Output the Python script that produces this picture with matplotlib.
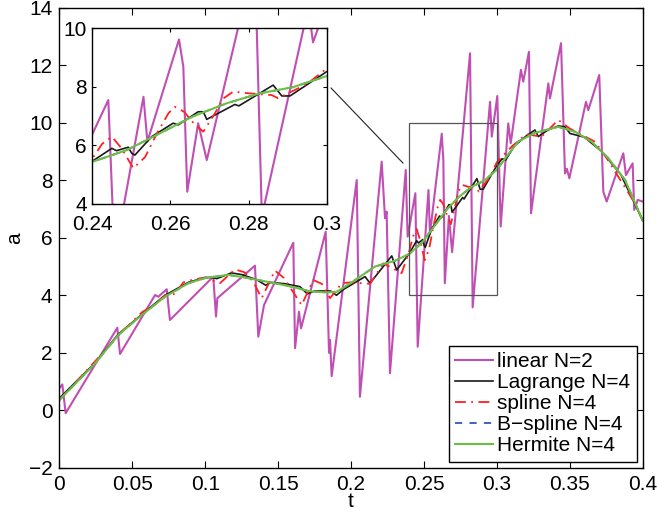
import numpy as np
import matplotlib.pyplot as plt
from matplotlib.patches import Rectangle

plt.rcParams['font.family'] = ['Liberation Sans', 'DejaVu Sans']

# linear N=2 (sawtooth)
t_lin = [0.0, 0.002, 0.0043, 0.0397, 0.0416, 0.0656, 0.0678, 0.0736, 0.0758,
         0.1055, 0.1074, 0.1083, 0.1341, 0.1364, 0.1403, 0.1604, 0.1616, 0.1643,
         0.1657, 0.1826, 0.1849, 0.1856, 0.1867, 0.2039, 0.2061, 0.221, 0.2233,
         0.2244, 0.2267, 0.2375, 0.2388, 0.2441, 0.2457, 0.2531, 0.2541, 0.2622,
         0.2633, 0.2643, 0.2671, 0.2693, 0.2816, 0.2834, 0.2953, 0.2965, 0.3003,
         0.3026, 0.3078, 0.3095, 0.3165, 0.3181, 0.322, 0.3234, 0.3353, 0.3364,
         0.344, 0.3467, 0.348, 0.3497, 0.3611, 0.3627, 0.3702, 0.373, 0.3753,
         0.3867, 0.3885, 0.3931, 0.3942, 0.3966, 0.4]
a_lin = [0.77, 0.90, -0.10, 2.87, 1.96, 4.01, 3.95, 4.21, 3.14,
         4.65, 3.26, 3.90, 5.03, 2.56, 3.66, 5.83, 2.16, 3.43,
         2.85, 6.21, 2.0, 2.45, 1.19, 8.01, 0.47, 8.65, 6.68,
         6.91, 1.29, 8.36, 6.04, 7.55, 2.21, 7.66, 6.13, 9.62,
         8.69, 4.42, 6.76, 5.50, 12.42, 3.58, 10.73, 9.52, 10.93,
         6.39, 9.98, 9.29, 11.84, 11.43, 12.47, 6.85, 11.37, 10.85,
         12.77, 8.24, 8.40, 8.07, 10.73, 10.44, 11.66, 7.60, 7.26,
         8.94, 8.18, 8.59, 6.97, 7.32, 7.26]

# Lagrange N=4
t_lag = [0.0, 0.0244, 0.0404, 0.0564, 0.0724, 0.0884, 0.1, 0.104, 0.108, 0.118,
         0.125, 0.135, 0.1415, 0.145, 0.155, 0.165, 0.17, 0.175, 0.186, 0.19,
         0.1947, 0.2096, 0.213, 0.2279, 0.2313, 0.24, 0.245, 0.2462, 0.2492,
         0.2501, 0.2509, 0.2552, 0.2607, 0.262, 0.2671, 0.2684, 0.2693, 0.2765,
         0.2775, 0.2863, 0.2885, 0.2906, 0.30, 0.3035, 0.306, 0.312, 0.3203,
         0.3261, 0.3284, 0.335, 0.3421, 0.3467, 0.3501, 0.36, 0.3719, 0.385, 0.4]
a_lag = [0.42, 1.65, 2.65, 3.33, 4.0, 4.45, 4.62, 4.62, 4.58, 4.78,
         4.72, 4.55, 4.35, 4.45, 4.40, 4.30, 4.05, 4.15, 4.15, 4.0,
         4.2, 4.65, 4.42, 5.37, 4.88, 5.46, 5.90, 5.82, 5.94,
         5.73, 5.67, 6.30, 6.76, 6.70, 7.15, 7.15, 6.89, 7.40,
         7.35, 8.06, 7.69, 7.69, 8.52, 8.75, 8.70, 9.2, 9.55,
         9.75, 9.52, 9.75, 9.89, 9.86, 9.63, 9.5, 9.0, 8.2, 6.6]

# spline N=4
t_spl = [0.0, 0.0244, 0.0404, 0.0564, 0.0656, 0.0724, 0.0793, 0.085, 0.092, 0.1,
         0.1101, 0.1204, 0.127, 0.133, 0.1387, 0.1478, 0.154, 0.1616, 0.1661,
         0.1741, 0.18, 0.1856, 0.1936, 0.2, 0.2073, 0.213, 0.2221, 0.2347,
         0.24, 0.2425, 0.245, 0.2475, 0.2505, 0.2535, 0.2565, 0.2595, 0.2611,
         0.2635, 0.266, 0.2684, 0.2714, 0.2735, 0.2761, 0.28, 0.2859, 0.2876,
         0.291, 0.295, 0.30, 0.3101, 0.32, 0.3307, 0.3421, 0.35, 0.3673,
         0.3753, 0.3947, 0.4]
a_spl = [0.36, 1.7, 2.6, 3.4, 3.7, 4.0, 4.05, 4.45, 4.55, 4.62,
         4.42, 4.9, 4.8, 4.47, 3.90, 4.86, 4.6, 4.01, 3.66,
         4.53, 4.4, 3.90, 4.42, 4.45, 4.42, 4.4, 5.11, 4.77,
         5.55, 6.05, 6.30, 5.9, 5.22, 5.6, 6.4, 7.1, 7.32,
         7.15, 6.75, 6.47, 7.1, 7.6, 7.84, 7.78, 7.72, 7.61,
         7.84, 8.1, 8.63, 9.17, 9.6, 9.52, 10.1, 9.8, 9.34,
         8.77, 7.2, 6.6]

# Hermite N=4 (B-spline N=4 lies underneath)
t_her = [0.0, 0.012, 0.0244, 0.0404, 0.0564, 0.0724, 0.0884, 0.1, 0.1158, 0.1273,
         0.1456, 0.1593, 0.1707, 0.182, 0.19, 0.196, 0.2027, 0.2164, 0.2301,
         0.24, 0.2488, 0.2565, 0.2659, 0.2744, 0.2829, 0.2914, 0.30, 0.3033,
         0.3147, 0.3261, 0.3421, 0.3536, 0.365, 0.3764, 0.3879, 0.4]
a_her = [0.36, 0.98, 1.63, 2.62, 3.31, 3.95, 4.42, 4.6, 4.71, 4.62,
         4.44, 4.30, 4.15, 4.10, 4.12, 4.3, 4.53, 5.0, 5.2,
         5.44, 5.84, 6.36, 7.0, 7.44, 7.78, 7.99, 8.37, 8.6,
         9.35, 9.65, 9.86, 9.69, 9.34, 8.77, 8.01, 6.6]
t_bsp = t_her
a_bsp = a_her

labels = ['linear N=2', 'Lagrange N=4', 'spline N=4', 'B\u2212spline N=4', 'Hermite N=4']
xticks = [0, 0.05, 0.1, 0.15, 0.2, 0.25, 0.3, 0.35, 0.4]
xticklabels = ['0', '0.05', '0.1', '0.15', '0.2', '0.25', '0.3', '0.35', '0.4']
yticks = [-2, 0, 2, 4, 6, 8, 10, 12, 14]
in_xticks = [0.24, 0.26, 0.28, 0.3]
in_xticklabels = ['0.24', '0.26', '0.28', '0.3']
in_yticks = [4, 6, 8, 10]

fs = 15
c_lin = '#C04FB4'
c_lag = '#1a1a1a'
c_spl = '#FF2020'
c_bsp = '#3355BB'
c_her = '#6CBF45'


def draw(ax):
    ax.plot(t_lin, a_lin, color=c_lin, lw=1.5, label=labels[0])
    ax.plot(t_lag, a_lag, color=c_lag, lw=1.2, label=labels[1])
    ax.plot(t_spl, a_spl, color=c_spl, lw=1.3, ls=(0, (6, 3, 1, 3)), label=labels[2])
    ax.plot(t_bsp, a_bsp, color=c_bsp, lw=1.3, ls=(0, (4, 4)), label=labels[3])
    ax.plot(t_her, a_her, color=c_her, lw=1.5, label=labels[4])


fig = plt.figure(figsize=(6.57, 5.17), dpi=100)
ax = fig.add_axes([59.4 / 657, 1 - 467.8 / 517, 583.3 / 657, 460 / 517])
draw(ax)
ax.set_xlim(0, 0.4)
ax.set_ylim(-2, 14)
ax.set_xticks(xticks)
ax.set_xticklabels(xticklabels)
ax.set_yticks(yticks)
ax.tick_params(direction='in', top=True, right=True, labelsize=fs, length=5, pad=5)
ax.set_xlabel('t', fontsize=fs, labelpad=-1)
ax.set_ylabel('a', fontsize=fs, labelpad=3)
for s in ax.spines.values():
    s.set_linewidth(1.0)

# zoom box and connector
ax.add_patch(Rectangle((0.24, 4), 0.06, 6, fill=False, ec='#555555', lw=0.9, zorder=5))
ax.plot([0.1863, 0.2356], [11.21, 8.60], color='#222222', lw=0.8)

leg = ax.legend(loc='lower right', bbox_to_anchor=(0.9897, 0.0133), borderaxespad=0,
                fontsize=fs, handlelength=1.8, handletextpad=0.22, borderpad=0.3,
                labelspacing=0.1, fancybox=False, framealpha=1, edgecolor='black')
leg.get_frame().set_linewidth(1.0)

# inset
axi = fig.add_axes([92.3 / 657, 1 - 204 / 517, 234.4 / 657, 175.7 / 517])
draw(axi)
axi.set_xlim(0.24, 0.3)
axi.set_ylim(4, 10)
axi.set_xticks(in_xticks)
axi.set_xticklabels(in_xticklabels)
axi.set_yticks(in_yticks)
axi.tick_params(axis='x', pad=8)
axi.tick_params(axis='y', pad=4)
axi.tick_params(direction='in', top=True, right=True, labelsize=fs, length=3)
for s in axi.spines.values():
    s.set_linewidth(1.0)

fig.savefig('out.png', dpi=100)
